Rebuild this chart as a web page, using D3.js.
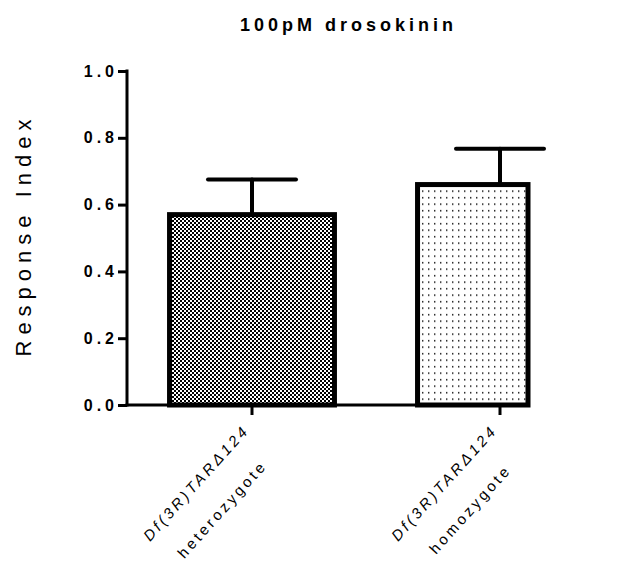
<!DOCTYPE html>
<html><head><meta charset="utf-8">
<script src="https://cdn.jsdelivr.net/npm/d3@7"></script>
<style>body{margin:0;background:#fff}svg{display:block}text{font-family:"Liberation Sans",Arial,sans-serif}</style>
</head><body><svg id="c" width="621" height="574"></svg>
<script>
const categories = ["het", "hom"];
const labelLine1 = ["Df(3R)TAR\u0394124", "Df(3R)TAR\u0394124"];
const labelLine2 = ["heterozygote", "homozygote"];
const means = [0.57, 0.66];
const sems = [0.105, 0.107];
const yTicks = [0, 0.2, 0.4, 0.6, 0.8, 1.0];
const titleText = "100pM drosokinin";
const yTitle = "Response Index";

const svg = d3.select("#c");
const defs = svg.append("defs");
const chk = defs.append("pattern").attr("id","chk").attr("patternUnits","userSpaceOnUse").attr("width",4).attr("height",4);
chk.append("rect").attr("width",4).attr("height",4).attr("fill","#fff");
chk.append("rect").attr("width",2).attr("height",2).attr("fill","#000");
chk.append("rect").attr("x",2).attr("y",2).attr("width",2).attr("height",2).attr("fill","#000");
const dot = defs.append("pattern").attr("id","dot").attr("patternUnits","userSpaceOnUse").attr("width",6).attr("height",6.5);
dot.append("rect").attr("width",6).attr("height",6.5).attr("fill","#fff");
dot.append("rect").attr("x",2).attr("y",2).attr("width",1.4).attr("height",1.4).attr("fill","#000");
const fills = ["url(#chk)", "url(#dot)"];

const y = d3.scaleLinear().domain([0,1]).range([405,71]);
const x = d3.scaleBand().domain(categories).range([128,624]).paddingInner(0.335).paddingOuter(0.1675);
const axisLeftX = 127, axisRightX = 528;

// bars (clipped to the end of the x axis, as in the reference)
svg.selectAll("rect.bar").data(categories).enter().append("rect")
  .attr("class","bar")
  .attr("x", d=>x(d))
  .attr("width", d=>Math.min(x(d)+x.bandwidth(), axisRightX) - x(d))
  .attr("y", (d,i)=>y(means[i]))
  .attr("height", (d,i)=>y(0)-y(means[i]))
  .attr("fill", (d,i)=>fills[i])
  .attr("stroke","#000").attr("stroke-width",5);

// error bars
const eg = svg.append("g").attr("stroke","#000").attr("stroke-width",4).attr("stroke-linecap","round");
categories.forEach((c,i)=>{
  const cx = x(c)+x.bandwidth()/2;
  eg.append("line").attr("x1",cx).attr("x2",cx).attr("y1",y(means[i])-2.5).attr("y2",y(means[i]+sems[i]));
  eg.append("line").attr("x1",cx-44).attr("x2",cx+44).attr("y1",y(means[i]+sems[i])).attr("y2",y(means[i]+sems[i]));
});

// y axis
const yAxis = d3.axisLeft(y).tickValues(yTicks).tickFormat(d3.format(".1f")).tickSize(9).tickPadding(4);
const ya = svg.append("g").attr("transform",`translate(${axisLeftX},0)`).call(yAxis);
ya.select(".domain").remove();
ya.selectAll(".tick line").attr("stroke","#000").attr("stroke-width",3);
ya.selectAll(".tick text").attr("font-size",16).attr("font-weight","bold").attr("fill","#000")
  .style("letter-spacing","4px").attr("dx",4);
svg.append("line").attr("x1",axisLeftX).attr("x2",axisLeftX).attr("y1",y(1)-1.5).attr("y2",y(0)+1.5).attr("stroke","#000").attr("stroke-width",3);

// x axis
const xa = svg.append("g").attr("transform","translate(0,405)")
  .call(d3.axisBottom(x).tickSize(10).tickFormat(""));
xa.select(".domain").remove();
xa.selectAll(".tick line").attr("stroke","#000").attr("stroke-width",3);
svg.append("line").attr("x1",axisLeftX-1.5).attr("x2",axisRightX).attr("y1",y(0)).attr("y2",y(0)).attr("stroke","#000").attr("stroke-width",3);

// x labels
categories.forEach((c,i)=>{
  const cx = x(c)+x.bandwidth()/2;
  const g = svg.append("g").attr("transform",`translate(${cx-4},${433}) rotate(-48)`);
  const t1 = g.append("text").attr("text-anchor","end").attr("font-size",15).attr("font-style","italic")
    .style("letter-spacing","3.2px").attr("x",3.2).attr("y",0).text(labelLine1[i]);
  const len = t1.node().getComputedTextLength();
  g.append("text").attr("text-anchor","middle").attr("font-size",15)
    .style("letter-spacing","3.2px").attr("x",-len/2 + 1).attr("y",37).text(labelLine2[i]);
});

// title
svg.append("text").attr("x",240).attr("y",31).attr("font-size",18).attr("font-weight","bold")
  .style("letter-spacing","4px").text(titleText);

// y title
svg.append("text").attr("transform","translate(31,238) rotate(-90)").attr("text-anchor","middle")
  .attr("font-size",22).style("letter-spacing","6px").attr("dx",3).text(yTitle);
</script></body></html>
